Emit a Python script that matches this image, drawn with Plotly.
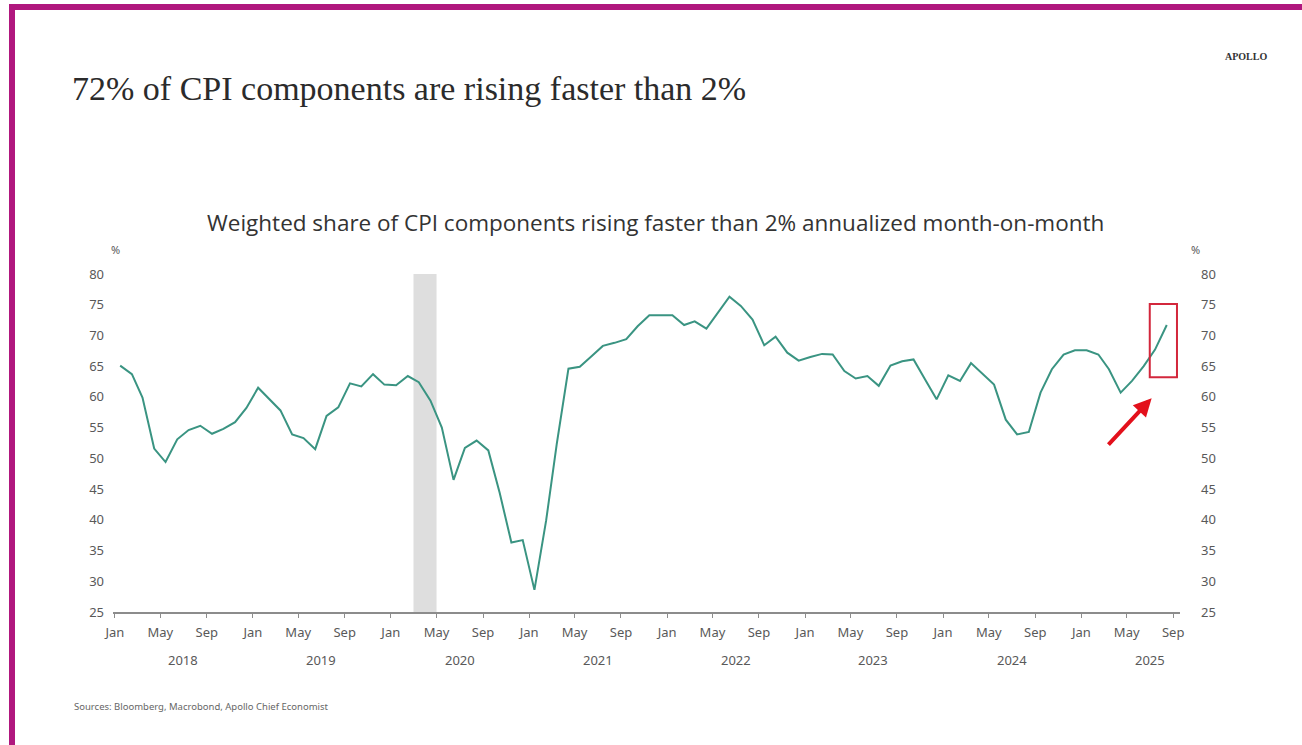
import plotly.graph_objects as go
import pandas as pd

# ---- data -------------------------------------------------------------
months = pd.date_range("2018-01-01", periods=92, freq="MS") + pd.Timedelta(days=14)
share = [
    65.1, 63.7, 59.9, 51.6, 49.4, 53.1, 54.6, 55.3, 54.0, 54.8, 55.9, 58.2,   # 2018
    61.5, 59.6, 57.8, 53.9, 53.3, 51.5, 56.9, 58.3, 62.2, 61.7, 63.7, 62.0,   # 2019
    61.9, 63.4, 62.4, 59.4, 55.0, 46.5, 51.7, 52.9, 51.3, 44.4, 36.3, 36.7,   # 2020
    28.6, 39.9, 52.3, 64.6, 64.9, 66.6, 68.3, 68.8, 69.4, 71.5, 73.3, 73.3,   # 2021
    73.3, 71.7, 72.3, 71.1, 73.7, 76.3, 74.8, 72.6, 68.4, 69.8, 67.2, 65.9,   # 2022
    66.5, 67.0, 66.9, 64.2, 63.0, 63.4, 61.8, 65.1, 65.8, 66.1, 62.8, 59.6,   # 2023
    63.5, 62.6, 65.5, 63.7, 62.0, 56.3, 53.9, 54.3, 60.7, 64.5, 66.9, 67.6,   # 2024
    67.6, 66.9, 64.5, 60.7, 62.6, 65.0, 67.7, 71.7,                           # 2025
]
years = list(range(2018, 2026))
tick_dates = [f"{y}-{m:02d}-01" for y in years for m in (1, 5, 9)]
tick_text = [m for y in years for m in ("Jan", "May", "Sep")]
y_ticks = list(range(25, 81, 5))

title = "72% of CPI components are rising faster than 2%"
subtitle = "Weighted share of CPI components rising faster than 2% annualized month-on-month"
source = "Sources: Bloomberg, Macrobond, Apollo Chief Economist"

# ---- geometry helpers (page pixels -> paper coords) --------------------
W, H = 1302, 745
L, R, T, B = 113, 1180, 274, 612


def px(x):
    return (x - L) / (R - L)


def py(y):
    return (B - y) / (B - T)


LINE = "#3a9482"
GREY = "#595959"
TICKFONT = dict(family="Noto Sans", size=13, color=GREY)

fig = go.Figure()
fig.add_trace(go.Scatter(x=months, y=share, mode="lines",
                         line=dict(color=LINE, width=2), showlegend=False,
                         hoverinfo="x+y"))
fig.add_trace(go.Scatter(x=months, y=share, mode="lines", yaxis="y2",
                         line=dict(color=LINE, width=0), opacity=0,
                         showlegend=False, hoverinfo="skip"))

shapes = [
    # recession band
    dict(type="rect", xref="x", yref="y", x0="2020-03-01", x1="2020-05-01",
         y0=25, y1=80, fillcolor="#dedede", line=dict(width=0), layer="below"),
    # red highlight box
    dict(type="rect", xref="x", yref="y", x0="2025-07-01", x1="2025-09-11",
         y0=63.2, y1=75.1, line=dict(color="#d3273c", width=2)),
    # magenta slide frame
    dict(type="line", xref="paper", yref="paper", x0=px(9), x1=px(W + 5),
         y0=py(7), y1=py(7), line=dict(color="#b0177e", width=6)),
    dict(type="line", xref="paper", yref="paper", x0=px(12), x1=px(12),
         y0=py(4), y1=py(H + 5), line=dict(color="#b0177e", width=6)),
]

annotations = [
    dict(text=title, xref="paper", yref="paper", x=px(70), y=py(88),
         xanchor="left", yanchor="middle", showarrow=False,
         font=dict(family="Liberation Serif", size=34, color="#2b2b2b")),
    dict(text="<b>APOLLO</b>", xref="paper", yref="paper", x=px(1246), y=py(56),
         xanchor="center", yanchor="middle", showarrow=False,
         font=dict(family="Liberation Serif", size=10, color="#333333")),
    dict(text=subtitle, xref="paper", yref="paper", x=px(655), y=py(222),
         xanchor="center", yanchor="middle", showarrow=False,
         font=dict(family="Open Sans", size=22.5, color="#333333")),
    dict(text="%", xref="paper", yref="paper", x=px(115), y=py(249),
         xanchor="center", yanchor="middle", showarrow=False,
         font=dict(family="Noto Sans", size=11, color=GREY)),
    dict(text="%", xref="paper", yref="paper", x=px(1195), y=py(249),
         xanchor="center", yanchor="middle", showarrow=False,
         font=dict(family="Noto Sans", size=11, color=GREY)),
    dict(text=source, xref="paper", yref="paper", x=px(72), y=py(706),
         xanchor="left", yanchor="middle", showarrow=False,
         font=dict(family="Noto Sans", size=9.5, color="#666666")),
    # red arrow
    dict(text="", xref="x", yref="y", x="2025-07-06", y=59.8,
         axref="x", ayref="y", ax="2025-03-10", ay=52.0, showarrow=True,
         arrowhead=2, arrowsize=0.9, arrowwidth=4, arrowcolor="#e3101b"),
]
for yr in years:
    annotations.append(dict(text=str(yr), xref="x", yref="paper", x=f"{yr}-07-01",
                            y=py(660), xanchor="center", yanchor="middle",
                            showarrow=False, font=TICKFONT))

fig.update_layout(
    width=W, height=H, autosize=False,
    margin=dict(l=L, r=W - R, t=T, b=H - B),
    paper_bgcolor="white", plot_bgcolor="white",
    shapes=shapes, annotations=annotations, showlegend=False,
    xaxis=dict(type="date", range=["2017-12-27", "2025-09-19"],
               tickmode="array", tickvals=tick_dates, ticktext=tick_text,
               ticks="outside", ticklen=4, tickcolor="#8c8c8c", tickwidth=1,
               showline=True, linecolor="#8c8c8c", linewidth=1.5,
               showgrid=False, zeroline=False, tickfont=TICKFONT,
               ticklabelstandoff=4),
    yaxis=dict(range=[25, 80], tickmode="array", tickvals=y_ticks,
               showgrid=False, zeroline=False, showline=False, ticks="",
               tickfont=TICKFONT, ticklabelstandoff=8),
    yaxis2=dict(range=[25, 80], tickmode="array", tickvals=y_ticks,
                overlaying="y", side="right", showgrid=False, zeroline=False,
                showline=False, ticks="", tickfont=TICKFONT,
                ticklabelstandoff=20),
)

fig.write_html("out.html")
